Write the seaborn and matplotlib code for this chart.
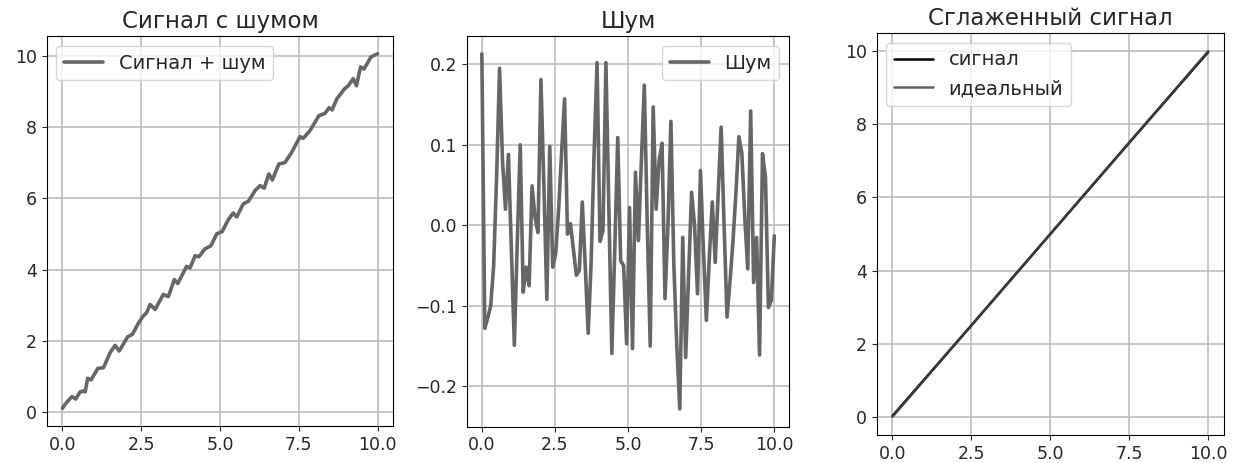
import numpy as np
import pandas as pd
import seaborn as sns
import matplotlib.pyplot as plt

# =========================
# DADOS
# =========================

# painel 1 - sinal + ruído (vértices da linha)
sinal_x = [0.0, 0.09, 0.30, 0.42, 0.56, 0.67, 0.72, 0.80, 0.91, 1.12, 1.30, 1.51,
           1.67, 1.80, 2.07, 2.22, 2.39, 2.54, 2.68, 2.78, 2.94, 3.20, 3.36, 3.55,
           3.66, 3.94, 4.05, 4.21, 4.33, 4.52, 4.71, 4.90, 5.07, 5.26, 5.42, 5.53,
           5.74, 5.90, 6.11, 6.27, 6.40, 6.55, 6.66, 6.87, 7.06, 7.27, 7.54, 7.64,
           7.85, 8.14, 8.33, 8.46, 8.56, 8.70, 8.94, 9.07, 9.23, 9.33, 9.46, 9.57,
           9.79, 10.0]
sinal_y = [0.10, 0.22, 0.43, 0.36, 0.56, 0.59, 0.56, 0.94, 0.90, 1.22, 1.24, 1.66,
           1.87, 1.71, 2.11, 2.18, 2.46, 2.67, 2.80, 3.02, 2.88, 3.30, 3.24, 3.72,
           3.61, 4.09, 4.05, 4.39, 4.36, 4.58, 4.67, 5.01, 5.07, 5.40, 5.59, 5.48,
           5.85, 5.92, 6.22, 6.36, 6.29, 6.69, 6.52, 6.97, 7.01, 7.29, 7.74, 7.69,
           7.90, 8.33, 8.39, 8.55, 8.49, 8.79, 9.07, 9.17, 9.37, 9.17, 9.70, 9.64,
           9.98, 10.07]

# painel 2 - ruído (100 amostras entre 0 e 10)
ruido = [0.213, -0.128, -0.115, -0.100, -0.050, 0.060, 0.195, 0.080, 0.020, 0.088,
         -0.030, -0.149, -0.020, 0.100, -0.083, -0.052, -0.075, 0.049, 0.010, -0.009,
         0.181, 0.050, -0.092, 0.098, -0.052, -0.035, 0.020, 0.090, 0.157, -0.011,
         0.002, -0.030, -0.062, -0.056, 0.029, -0.050, -0.134, -0.046, 0.090, 0.202,
         -0.020, -0.007, 0.202, 0.020, -0.159, -0.030, 0.109, -0.044, -0.050, -0.147,
         0.022, -0.153, 0.066, -0.019, 0.080, 0.174, 0.000, -0.150, 0.147, 0.020,
         0.080, 0.102, -0.091, 0.000, 0.129, -0.050, -0.150, -0.228, -0.015, -0.164,
         -0.060, 0.041, 0.000, -0.085, 0.068, -0.030, -0.118, -0.040, 0.029, -0.046,
         0.040, 0.122, 0.000, -0.114, -0.070, -0.020, 0.040, 0.110, 0.090, 0.010,
         -0.054, 0.142, -0.071, -0.015, -0.161, 0.089, 0.060, -0.102, -0.093, -0.013]
ruido_x = np.linspace(0, 10, len(ruido))

# painel 3 - sinal suavizado e ideal
suave_x = [0.0, 2.5, 5.0, 7.5, 10.0]
suave_y = [0.02, 2.5, 5.0, 7.5, 9.98]
ideal_x = [0.0, 10.0]
ideal_y = [0.0, 10.0]

# =========================
# ESTILO
# =========================

sns.set_style("ticks", {"axes.grid": True, "grid.color": "#bdbdbd",
                        "axes.edgecolor": "black"})
plt.rcParams["font.family"] = ["DejaVu Sans"]
plt.rcParams["xtick.labelsize"] = 12.5
plt.rcParams["ytick.labelsize"] = 12.5

fig = plt.figure(figsize=(12.36, 4.63), dpi=100)
ax1 = fig.add_axes([0.0378, 0.0799, 0.2804, 0.8423])
ax2 = fig.add_axes([0.378, 0.0784, 0.2603, 0.8438])
ax3 = fig.add_axes([0.7093, 0.0605, 0.281, 0.8683])

# =========================
# GRÁFICO 1
# =========================

sns.lineplot(x=sinal_x, y=sinal_y, ax=ax1, color="#666666", linewidth=2.6,
             label="Сигнал + шум", sort=False)
ax1.set_title("Сигнал с шумом", fontsize=16.5)
ax1.legend(loc="upper left", fontsize=14)

# =========================
# GRÁFICО 2
# =========================

sns.lineplot(x=ruido_x, y=ruido, ax=ax2, color="#666666", linewidth=2.6,
             label="Шум", sort=False)
ax2.set_title("Шум", fontsize=16.5)
ax2.legend(loc="upper right", fontsize=14)

# =========================
# GRÁFICO 3
# =========================

sns.lineplot(x=suave_x, y=suave_y, ax=ax3, color="black", linewidth=1.8,
             label="сигнал")
sns.lineplot(x=ideal_x, y=ideal_y, ax=ax3, color="#444444", linewidth=1.8,
             alpha=0.85, label="идеальный")
ax3.set_title("Сглаженный сигнал", fontsize=16.5)
ax3.legend(loc="upper left", fontsize=14)

for ax in (ax1, ax2, ax3):
    ax.grid(True, linewidth=1.2)
    ax.set_xticks([0, 2.5, 5, 7.5, 10])
    ax.set_xticklabels(["0.0", "2.5", "5.0", "7.5", "10.0"])

plt.savefig("out.png", dpi=100)
